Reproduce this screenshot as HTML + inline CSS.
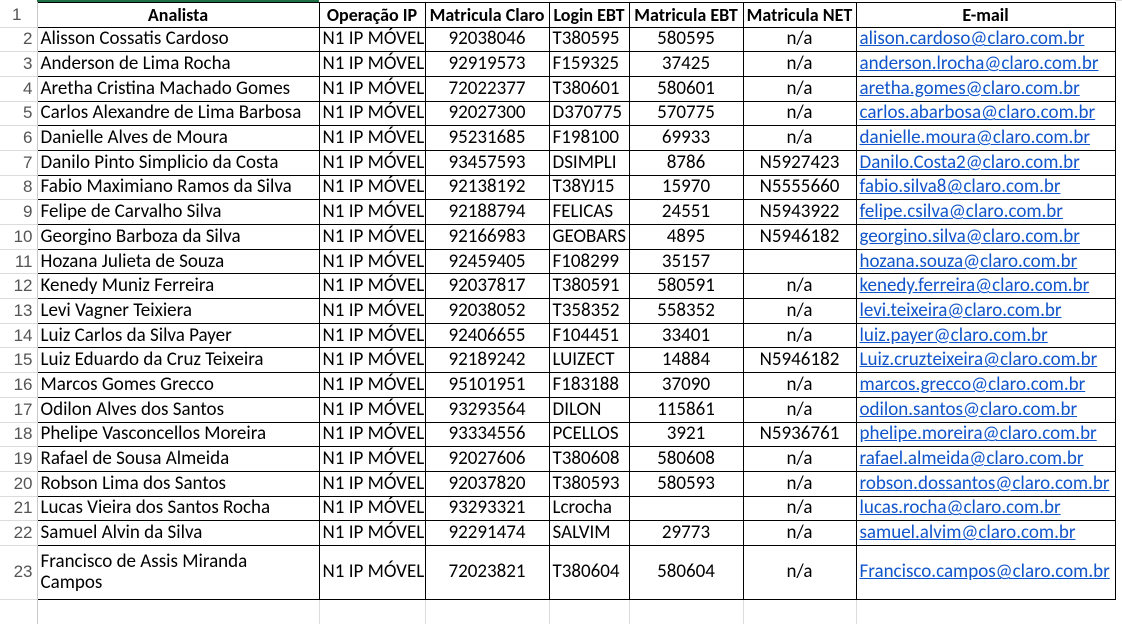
<!DOCTYPE html>
<html><head><meta charset="utf-8"><style>
body{margin:0;width:1122px;height:607px;overflow:hidden;background:#fff;font-family:"Carlito","Liberation Sans",sans-serif;}
table{position:absolute;left:0;top:2px;border-collapse:collapse;table-layout:fixed;width:1115px;}
td{padding:0 3px;white-space:nowrap;overflow:hidden;font-size:19px;color:#000;border:1px solid #000;height:23.7px;line-height:18px;max-width:0;}
td.rh{border:none;border-right:1px solid #c8c8c8;border-bottom:1px solid #dcdcdc;color:#555;text-align:right;padding-right:4px;font-family:"Liberation Sans",sans-serif;font-size:17px;}
tr.h td{font-weight:bold;text-align:center;height:23.5px;font-size:18px;padding:0 1px;}
.c{text-align:center}
a{color:#1155cc;text-decoration:underline;}
.top{position:absolute;left:37px;top:0;width:282px;height:2px;background:#1e7145;}
.g{position:absolute;background:#dcdcdc;}
</style></head><body>
<div class="top"></div>
<div class="g" style="left:1115px;top:0;width:7px;height:1px"></div>
<table>
<colgroup><col style="width:37px"><col style="width:282px"><col style="width:106px"><col style="width:124px"><col style="width:80px"><col style="width:114px"><col style="width:113px"><col style="width:259px"></colgroup>
<tbody id="tb">
<tr class="h"><td class="rh" style="font-weight:normal;font-size:17px;padding-right:4px">1</td><td>Analista</td><td>Operação IP</td><td>Matricula Claro</td><td>Login EBT</td><td>Matricula EBT</td><td>Matricula NET</td><td>E-mail</td></tr>
</tbody></table>
<script>
const names=["Alisson Cossatis Cardoso","Anderson de Lima Rocha","Aretha Cristina Machado Gomes","Carlos Alexandre de Lima Barbosa","Danielle Alves de Moura","Danilo Pinto Simplicio da Costa","Fabio Maximiano Ramos da Silva","Felipe de Carvalho Silva","Georgino Barboza da Silva","Hozana Julieta de Souza","Kenedy Muniz Ferreira","Levi Vagner Teixiera","Luiz Carlos da Silva Payer","Luiz Eduardo da Cruz Teixeira","Marcos Gomes Grecco","Odilon Alves dos Santos","Phelipe Vasconcellos Moreira","Rafael de Sousa Almeida","Robson Lima dos Santos","Lucas Vieira dos Santos Rocha","Samuel Alvin da Silva","Francisco de Assis Miranda<br>Campos"];
const claro=["92038046","92919573","72022377","92027300","95231685","93457593","92138192","92188794","92166983","92459405","92037817","92038052","92406655","92189242","95101951","93293564","93334556","92027606","92037820","93293321","92291474","72023821"];
const login=["T380595","F159325","T380601","D370775","F198100","DSIMPLI","T38YJ15","FELICAS","GEOBARS","F108299","T380591","T358352","F104451","LUIZECT","F183188","DILON","PCELLOS","T380608","T380593","Lcrocha","SALVIM","T380604"];
const mebt=["580595","37425","580601","570775","69933","8786","15970","24551","4895","35157","580591","558352","33401","14884","37090","115861","3921","580608","580593","","29773","580604"];
const net=["n/a","n/a","n/a","n/a","n/a","N5927423","N5555660","N5943922","N5946182","","n/a","n/a","n/a","N5946182","n/a","n/a","N5936761","n/a","n/a","n/a","n/a","n/a"];
const mail=["alison.cardoso","anderson.lrocha","aretha.gomes","carlos.abarbosa","danielle.moura","Danilo.Costa2","fabio.silva8","felipe.csilva","georgino.silva","hozana.souza","kenedy.ferreira","levi.teixeira","luiz.payer","Luiz.cruzteixeira","marcos.grecco","odilon.santos","phelipe.moreira","rafael.almeida","robson.dossantos","lucas.rocha","samuel.alvim","Francisco.campos"];
const tb=document.getElementById('tb');
names.forEach((n,i)=>{
const tr=document.createElement('tr');


const h=i===21?'height:53px;':'';
tr.innerHTML=`<td class="rh" style="${h}">${i+2}</td><td style="${h}${i===21?'line-height:21px;':''}">${n}</td><td>N1 IP MÓVEL</td><td class="c">${claro[i]}</td><td>${login[i]}</td><td class="c">${mebt[i]}</td><td class="c">${net[i]}</td><td><a>${mail[i]}@claro.com.br</a></td>`;
tb.appendChild(tr);
});
const last=document.createElement('tr');


last.innerHTML='<td class="rh" style="border-bottom:none"></td>'+'<td style="border:none;border-left:1px solid #dcdcdc"></td>'.repeat(7);
tb.appendChild(last);
</script>
</body></html>
